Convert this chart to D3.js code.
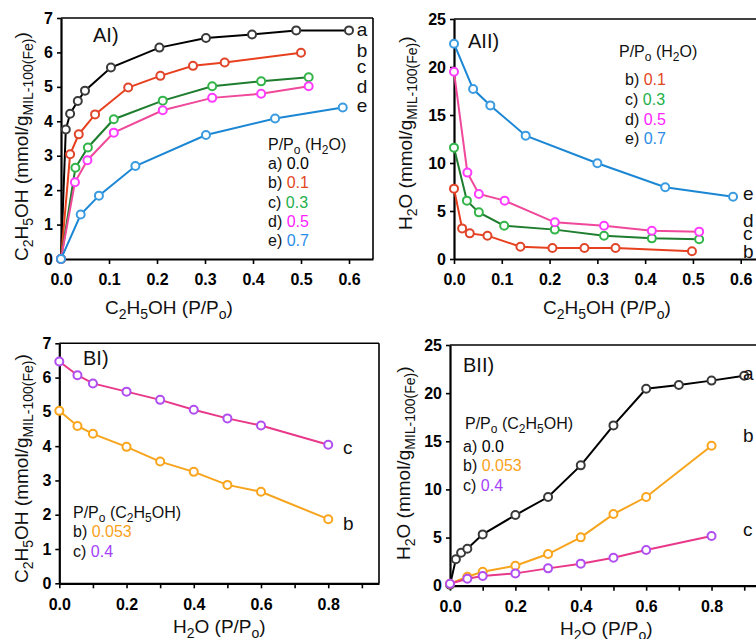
<!DOCTYPE html>
<html>
<head>
<meta charset="utf-8">
<script src="https://cdn.jsdelivr.net/npm/d3@7"></script>
<style>
  body { margin: 0; background: #fff; }
  svg { display: block; }
</style>
</head>
<body>
<div id="chart"></div>
<script>
const width = 756;
const height = 639;
const FONT = '"Liberation Sans", Arial, Helvetica, sans-serif';

// ---- AI: ethanol uptake vs ethanol P/Po (water P/Po fixed) ----
const aiXa = [0, 0.01, 0.019, 0.035, 0.05, 0.104, 0.205, 0.302, 0.398, 0.49, 0.6];
const aiYa = [0, 3.76, 4.22, 4.59, 4.89, 5.56, 6.14, 6.42, 6.52, 6.64, 6.64];
const aiXb = [0, 0.019, 0.037, 0.071, 0.14, 0.207, 0.275, 0.341, 0.5];
const aiYb = [0, 3.04, 3.62, 4.2, 4.98, 5.32, 5.61, 5.71, 5.99];
const aiXc = [0, 0.03, 0.056, 0.11, 0.212, 0.315, 0.417, 0.516];
const aiYc = [0, 2.65, 3.24, 4.06, 4.6, 5.02, 5.16, 5.28];
const aiXd = [0, 0.029, 0.055, 0.11, 0.212, 0.315, 0.417, 0.516];
const aiYd = [0, 2.23, 2.87, 3.67, 4.32, 4.68, 4.8, 5.02];
const aiXe = [0, 0.041, 0.079, 0.155, 0.302, 0.446, 0.587];
const aiYe = [0, 1.29, 1.84, 2.7, 3.6, 4.08, 4.4];
const aiEndLabels = ['a', 'b', 'c', 'd', 'e'];
const aiEndY = [6.48, 5.88, 5.4, 4.82, 4.27];

// ---- AII: water uptake vs ethanol P/Po (water P/Po fixed) ----
const aiiXb = [0, 0.017, 0.033, 0.07, 0.139, 0.206, 0.273, 0.338, 0.498];
const aiiYb = [7.33, 3.19, 2.67, 2.43, 1.28, 1.15, 1.15, 1.15, 0.8];
const aiiXc = [0, 0.027, 0.052, 0.105, 0.211, 0.314, 0.414, 0.513];
const aiiYc = [11.6, 6.08, 4.86, 3.47, 3.06, 2.43, 2.15, 2.05];
const aiiXd = [0, 0.028, 0.052, 0.106, 0.211, 0.314, 0.414, 0.513];
const aiiYd = [19.5, 9.0, 6.77, 6.08, 3.82, 3.47, 2.95, 2.85];
const aiiXe = [0, 0.04, 0.076, 0.15, 0.3, 0.442, 0.584];
const aiiYe = [22.43, 17.7, 16.0, 12.85, 9.97, 7.47, 6.49];
const aiiEndLabels = ['e', 'd', 'c', 'b'];
const aiiEndY = [6.15, 3.33, 1.98, 0.1];

// ---- BI: ethanol uptake vs water P/Po (ethanol P/Po fixed) ----
const biX = [0, 0.054, 0.1, 0.2, 0.3, 0.4, 0.5, 0.6, 0.8];
const biYb = [5.03, 4.59, 4.36, 3.98, 3.55, 3.25, 2.87, 2.67, 1.87];
const biYc = [6.47, 6.07, 5.83, 5.59, 5.35, 5.06, 4.81, 4.6, 4.04];
const biEndLabels = ['c', 'b'];
const biEndY = [3.77, 1.55];

// ---- BII: water uptake vs water P/Po (ethanol P/Po fixed) ----
const biiXa = [0, 0.018, 0.034, 0.053, 0.1, 0.2, 0.3, 0.4, 0.5, 0.6, 0.7, 0.8, 0.9];
const biiYa = [0.1, 2.74, 3.43, 3.84, 5.33, 7.34, 9.21, 12.5, 16.65, 20.46, 20.84, 21.3, 21.81];
const biiX = [0, 0.053, 0.1, 0.2, 0.3, 0.4, 0.5, 0.6, 0.8];
const biiYb = [0.2, 0.93, 1.45, 2.08, 3.29, 5.02, 7.44, 9.21, 14.54];
const biiYc = [0.2, 0.73, 1.0, 1.28, 1.8, 2.29, 2.91, 3.7, 5.16];
const biiEndLabels = ['a', 'b', 'c'];
const biiEndY = [21.36, 14.92, 5.16];

// legend values
const waterPP = ['0.0', '0.1', '0.3', '0.5', '0.7'];
const ethanolPP = ['0.0', '0.053', '0.4'];

// colours
const C = {
  a: { line: '#000000', marker: '#3a3a3a', text: '#000000' },
  b: { line: '#e8401e', marker: '#e0452a', text: '#e2461d' },
  c: { line: '#1e7d2e', marker: '#33b54a', text: '#22b04b' },
  d: { line: '#f0489a', marker: '#ff3cff', text: '#ff22ff' },
  e: { line: '#1b87d4', marker: '#3a9be0', text: '#2b8ce6' },
  orange: { line: '#f7a41c', marker: '#f9a51e', text: '#f9a21b' },
  purple: { line: '#e8388a', marker: '#b04ef0', text: '#a43ff8' }
};

const zip = (xs, ys) => xs.map((x, i) => ({ x: x, y: ys[i] }));

const svg = d3.select('#chart').append('svg')
  .attr('width', width)
  .attr('height', height)
  .style('font-family', FONT);

svg.append('rect').attr('width', width).attr('height', height).attr('fill', '#fff');

// text with _{sub} subscripts
function richText(text, str, base, sub) {
  const re = /_\{([^}]*)\}/g;
  const shift = base * 0.28;
  let last = 0, m, down = false;
  while ((m = re.exec(str))) {
    if (m.index > last) {
      const t = text.append('tspan').text(str.slice(last, m.index));
      if (down) { t.attr('dy', -shift); down = false; }
    }
    const s = text.append('tspan').attr('font-size', sub).text(m[1]);
    if (!down) { s.attr('dy', shift); down = true; }
    last = re.lastIndex;
  }
  if (last < str.length) {
    const t = text.append('tspan').text(str.slice(last));
    if (down) t.attr('dy', -shift);
  }
}

const panels = [
  {
    left: 61, right: 373, top: 18, bottom: 259, xMax: 0.65, yMax: 7, yStep: 1,
    xTicks: d3.range(0, 0.65, 0.1), everyOther: false, rightBorder: true,
    title: 'AI)', titleX: 93, titleY: 42,
    xLabel: 'C_{2}H_{5}OH (P/P_{o})', xLabelX: 105, xLabelY: 314,
    yLabel: 'C_{2}H_{5}OH (mmol/g_{MIL-100(Fe)})', yLabelX: 28, yLabelY: 261,
    series: [
      { data: zip(aiXa, aiYa), col: C.a },
      { data: zip(aiXb, aiYb), col: C.b },
      { data: zip(aiXc, aiYc), col: C.c },
      { data: zip(aiXd, aiYd), col: C.d },
      { data: zip(aiXe, aiYe), col: C.e }
    ],
    endLabels: aiEndLabels, endY: aiEndY, endX: 0.616,
    legend: {
      x: 268, y: 150, step: 19.2, title: 'P/P_{o} (H_{2}O)',
      rows: ['a', 'b', 'c', 'd', 'e'].map((k, i) => ({ key: k, value: waterPP[i], color: C[k].text })),
      gap: [0, 0, 0, 0, 0, 0]
    }
  },
  {
    left: 454, right: 756, top: 19, bottom: 259, xMax: 0.632, yMax: 25, yStep: 5,
    xTicks: d3.range(0, 0.65, 0.1), everyOther: false, rightBorder: false,
    title: 'AII)', titleX: 468, titleY: 48,
    xLabel: 'C_{2}H_{5}OH (P/P_{o})', xLabelX: 543, xLabelY: 314,
    yLabel: 'H_{2}O (mmol/g_{MIL-100(Fe)})', yLabelX: 412, yLabelY: 230,
    series: [
      { data: zip(aiiXb, aiiYb), col: C.b },
      { data: zip(aiiXc, aiiYc), col: C.c },
      { data: zip(aiiXd, aiiYd), col: C.d },
      { data: zip(aiiXe, aiiYe), col: C.e }
    ],
    endLabels: aiiEndLabels, endY: aiiEndY, endX: 0.605,
    legend: {
      x: 625, y: 57, step: 19.7, title: 'P/P_{o} (H_{2}O)', titleX: 619, firstGap: 8.5,
      rows: ['b', 'c', 'd', 'e'].map((k, i) => ({ key: k, value: waterPP[i + 1], color: C[k].text }))
    }
  },
  {
    left: 59.3, right: 379, top: 343.3, bottom: 583.3, xMax: 0.951, yMax: 7, yStep: 1,
    xTicks: d3.range(0, 0.95, 0.1), everyOther: true, rightBorder: true,
    title: 'BI)', titleX: 83, titleY: 365,
    xLabel: 'H_{2}O (P/P_{o})', xLabelX: 173, xLabelY: 633,
    yLabel: 'C_{2}H_{5}OH (mmol/g_{MIL-100(Fe)})', yLabelX: 28, yLabelY: 583,
    series: [
      { data: zip(biX, biYb), col: C.orange },
      { data: zip(biX, biYc), col: C.purple }
    ],
    endLabels: biEndLabels, endY: biEndY, endX: 0.844,
    legend: {
      x: 73, y: 518, step: 19.3, title: 'P/P_{o} (C_{2}H_{5}OH)',
      rows: [
        { key: 'b', value: ethanolPP[1], color: C.orange.text },
        { key: 'c', value: ethanolPP[2], color: C.purple.text }
      ]
    }
  },
  {
    left: 450, right: 756, top: 345, bottom: 585.7, xMax: 0.936, yMax: 25, yStep: 5,
    xTicks: d3.range(0, 0.95, 0.1), everyOther: true, rightBorder: false,
    title: 'BII)', titleX: 463, titleY: 372,
    xLabel: 'H_{2}O (P/P_{o})', xLabelX: 560, xLabelY: 635,
    yLabel: 'H_{2}O (mmol/g_{MIL-100(Fe)})', yLabelX: 410, yLabelY: 560,
    series: [
      { data: zip(biiXa, biiYa), col: C.a },
      { data: zip(biiX, biiYb), col: C.orange },
      { data: zip(biiX, biiYc), col: C.purple }
    ],
    endLabels: biiEndLabels, endY: biiEndY, endX: 0.896,
    legend: {
      x: 463, y: 429, step: 19.3, title: 'P/P_{o} (C_{2}H_{5}OH)', titleX: 465, firstGap: 3.7,
      rows: [
        { key: 'a', value: ethanolPP[0], color: C.a.text },
        { key: 'b', value: ethanolPP[1], color: C.orange.text },
        { key: 'c', value: ethanolPP[2], color: C.purple.text }
      ]
    }
  }
];

panels.forEach(drawPanel);

function drawPanel(p) {
  const x = d3.scaleLinear().domain([0, p.xMax]).range([p.left, p.right]);
  const y = d3.scaleLinear().domain([0, p.yMax]).range([p.bottom, p.top]);
  const g = svg.append('g');

  // frame (top / right)
  g.append('line')
    .attr('x1', p.left).attr('x2', p.right)
    .attr('y1', p.top).attr('y2', p.top)
    .attr('stroke', '#000').attr('stroke-width', 1.6);
  if (p.rightBorder) {
    g.append('line')
      .attr('x1', p.right).attr('x2', p.right)
      .attr('y1', p.top).attr('y2', p.bottom)
      .attr('stroke', '#000').attr('stroke-width', 1.6);
  }

  // axes
  const xAxis = d3.axisBottom(x)
    .tickValues(p.xTicks)
    .tickSize(5).tickSizeOuter(0).tickPadding(10)
    .tickFormat(d => (!p.everyOther || Math.round(d * 10) % 2 === 0) ? d3.format('.1f')(d) : '');
  const yAxis = d3.axisLeft(y)
    .tickValues(d3.range(0, p.yMax + 0.01, p.yStep))
    .tickSize(4).tickSizeOuter(0).tickPadding(4)
    .tickFormat(d3.format('d'));

  const gx = g.append('g').attr('transform', `translate(0,${p.bottom})`).call(xAxis);
  const gy = g.append('g').attr('transform', `translate(${p.left},0)`).call(yAxis);
  [gx, gy].forEach(a => {
    a.select('.domain').attr('stroke-width', 2.2);
    a.selectAll('.tick line').attr('stroke-width', 1.6);
    a.selectAll('.tick text')
      .attr('font-family', FONT)
      .attr('font-size', 16)
      .attr('font-weight', 'bold')
      .attr('fill', '#000');
  });

  // series
  const line = d3.line().x(d => x(d.x)).y(d => y(d.y));
  p.series.forEach(s => {
    g.append('path')
      .datum(s.data)
      .attr('d', line)
      .attr('fill', 'none')
      .attr('stroke', s.col.line)
      .attr('stroke-width', 2);
    g.selectAll(null)
      .data(s.data)
      .enter().append('circle')
      .attr('cx', d => x(d.x))
      .attr('cy', d => y(d.y))
      .attr('r', 4)
      .attr('fill', '#fff')
      .attr('stroke', s.col.marker)
      .attr('stroke-width', 2);
  });

  // end-of-curve letters
  g.selectAll(null)
    .data(p.endLabels)
    .enter().append('text')
    .attr('x', x(p.endX))
    .attr('y', (d, i) => y(p.endY[i]))
    .attr('font-size', 19)
    .attr('fill', '#111')
    .text(d => d);

  // panel title
  g.append('text')
    .attr('x', p.titleX).attr('y', p.titleY)
    .attr('font-size', 20).attr('fill', '#111')
    .text(p.title);

  // axis titles
  const xt = g.append('text')
    .attr('x', p.xLabelX).attr('y', p.xLabelY)
    .attr('font-size', 19).attr('fill', '#111');
  richText(xt, p.xLabel, 19, 14);

  const yt = g.append('text')
    .attr('transform', `translate(${p.yLabelX},${p.yLabelY}) rotate(-90)`)
    .attr('font-size', 19).attr('fill', '#111');
  richText(yt, p.yLabel, 19, 14);

  // legend
  const L = p.legend;
  const lt = g.append('text')
    .attr('x', L.titleX || L.x).attr('y', L.y)
    .attr('font-size', 16).attr('fill', '#111');
  richText(lt, L.title, 16, 12);
  L.rows.forEach((r, i) => {
    const t = g.append('text')
      .attr('x', L.x)
      .attr('y', L.y + (L.firstGap || 0) + L.step * (i + 1))
      .attr('font-size', 16).attr('fill', '#111');
    t.append('tspan').text(r.key + ') ');
    t.append('tspan').attr('fill', r.color).text(r.value);
  });
}
</script>
</body>
</html>
